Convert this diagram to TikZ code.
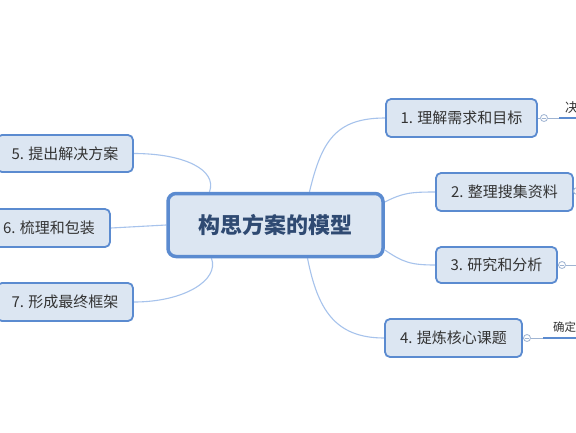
\documentclass[tikz,border=0pt]{standalone}
\usepackage{fontspec}
\setmainfont{Noto Sans CJK SC}
\usetikzlibrary{backgrounds}
\definecolor{boxfill}{HTML}{DCE6F2}
\definecolor{boxline}{HTML}{5B8BD0}
\definecolor{txt}{HTML}{333333}
\definecolor{ctxt}{HTML}{2F4A72}
\definecolor{conn}{HTML}{A7C3EC}
\definecolor{knob}{HTML}{9FB4D2}
\tikzset{
  topic/.style={draw=boxline, fill=boxfill, line width=1.8pt, rounded corners=5pt,
    inner sep=0pt, text=txt, font=\fontsize{15}{18}\selectfont},
  central/.style={draw=boxline, fill=boxfill, line width=3.5pt, rounded corners=8pt,
    inner sep=0pt, text=ctxt, font=\fontsize{22}{26}\selectfont\bfseries,
    minimum width=215pt, minimum height=63pt},
  link/.style={draw=conn, line width=1.1pt},
  knobc/.style={circle, draw=knob, fill=white, line width=0.8pt, minimum size=7pt, inner sep=0pt},
  thin/.style={draw=knob, line width=0.8pt},
  thick/.style={draw=boxline, line width=2.5pt},
  sub/.style={inner sep=0pt, text=txt, font=\fontsize{11.5}{14}\selectfont}
}
\begin{document}
\begin{tikzpicture}[x=1pt,y=-1pt]
\useasboundingbox (0,0) rectangle (576,432);

\node[central] (c) at (275.5,225) {构思方案的模型};

\node[topic, minimum width=151pt, minimum height=38pt] (n1) at (461.5,118) {1. 理解需求和目标};
\node[topic, minimum width=137pt, minimum height=38pt] (n2) at (504.5,192) {2. 整理搜集资料};
\node[topic, minimum width=121pt, minimum height=36pt] (n3) at (496.5,265) {3. 研究和分析};
\node[topic, minimum width=137pt, minimum height=38pt] (n4) at (453.5,338) {4. 提炼核心课题};
\node[topic, minimum width=136pt, minimum height=37pt] (n5) at (65,153.5) {5. 提出解决方案};
\node[topic, minimum width=122pt, minimum height=38pt] (n6) at (49,228) {6. 梳理和包装};
\node[topic, minimum width=136pt, minimum height=38pt] (n7) at (65,302) {7. 形成最终框架};

\begin{pgfonlayer}{background}
\fill[white] (0,0) rectangle (576,432);
\draw[link] ([xshift=34pt]c.north) .. controls +(12,-50) and +(-50,0) .. (n1.west);
\draw[link] ([yshift=23pt]c.east) .. controls +(18,-9) and +(-25,0) .. (n2.west);
\draw[link] ([yshift=-25pt]c.east) .. controls +(18,12) and +(-25,0) .. (n3.west);
\draw[link] ([xshift=32pt]c.south) .. controls +(10,50) and +(-50,0) .. (n4.west);
\draw[link] (n5.east) .. controls +(50,0) and +(8,-22) .. ([xshift=-66pt]c.north);
\draw[link] (n6.east) -- (c.west);
\draw[link] (n7.east) .. controls +(50,0) and +(8,22) .. ([xshift=-64pt]c.south);
\end{pgfonlayer}

% right side sub-branches
\node[knobc] (k1) at (544,118) {};
\coordinate (e1) at (559,118);
\coordinate (f1) at (580,118);
\draw[thin] (n1.east) -- (k1);
\draw[thin] (k1) -- (e1);
\draw[thick] (e1) -- (f1);
\draw[thin] ([xshift=-2pt]k1.center) -- ([xshift=2pt]k1.center);
\node[sub, anchor=south west, font=\fontsize{13}{15}\selectfont] (t1) at (565,114) {决};

\node[knobc] (k2) at (577,191) {};
\draw[thin] (n2.east) -- (k2);

\node[knobc] (k3) at (562,265) {};
\coordinate (f3) at (580,265);
\draw[thin] (n3.east) -- (k3);
\draw[thin] (k3) -- (f3);
\draw[thin] ([xshift=-2pt]k3.center) -- ([xshift=2pt]k3.center);

\node[knobc] (k4) at (527,338) {};
\coordinate (e4) at (543,338);
\coordinate (f4) at (580,338);
\draw[thin] (n4.east) -- (k4);
\draw[thin] (k4) -- (e4);
\draw[thick] (e4) -- (f4);
\draw[thin] ([xshift=-2pt]k4.center) -- ([xshift=2pt]k4.center);
\node[sub, anchor=south west] (t4) at (553,333) {确定};
\end{tikzpicture}
\end{document}
